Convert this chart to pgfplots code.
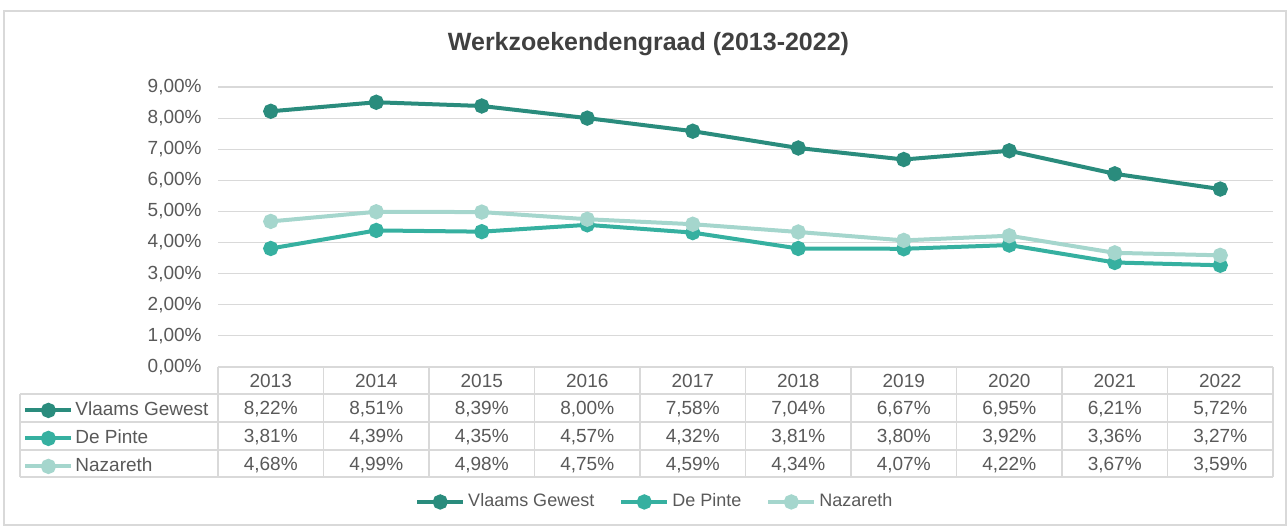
\documentclass[border=0pt]{standalone}
\usepackage{pgfplots}
\pgfplotsset{compat=1.18}
\usepackage{fontspec}
\setmainfont{Liberation Sans}
\definecolor{cA}{HTML}{2A8C7D}
\definecolor{cB}{HTML}{36B0A0}
\definecolor{cC}{HTML}{A5D6CD}
\definecolor{gridc}{HTML}{D9D9D9}
\definecolor{txt}{HTML}{595959}
\pgfplotsset{
  keyimg/.style={legend image code/.code={\draw[mark repeat=2,mark phase=2,##1] plot coordinates {(0pt,0pt) (11.5pt,0pt) (23pt,0pt)};}},
  sA/.style={color=cA, line width=2pt, mark=*, mark size=2.8pt, mark options={solid}},
  sB/.style={color=cB, line width=2pt, mark=*, mark size=2.8pt, mark options={solid}},
  sC/.style={color=cC, line width=2pt, mark=*, mark size=2.8pt, mark options={solid}},
}
\begin{document}
\begin{tikzpicture}[x=1pt,y=1pt]
\path[use as bounding box] (0,0) rectangle (644,263.5);
\draw[gridc, line width=0.6pt] (2,258) rectangle (643,1);
\node[font=\bfseries\fontsize{12.5}{14}\selectfont, text=black!75] at (324.25,241.5) {Werkzoekendengraad (2013-2022)};
\begin{axis}[
  at={(109pt,80pt)}, anchor=south west, scale only axis,
  width=527.5pt, height=140pt,
  xmin=0, xmax=10, ymin=0, ymax=9,
  axis line style={draw=none},
  xtick=\empty, ytick={0,1,...,9},
  ymajorgrids, grid style={gridc, line width=0.6pt},
  major tick length=0pt,
  /pgf/number format/assume math mode=true,
  yticklabel={\pgfmathprintnumber[fixed, fixed zerofill, precision=2, use comma]{\tick}\%},
  yticklabel style={font=\fontsize{9.5}{11}\selectfont, text=txt, inner xsep=0pt, xshift=-8pt},
  clip=false,
  keyimg,
  legend columns=3,
  legend style={draw=none, fill=none, at={(0.4145,-0.482)}, anchor=center,
    font=\fontsize{9}{11}\selectfont, text=txt, inner sep=0pt,
    nodes={inner xsep=1.5pt},
    /tikz/every odd column/.append style={column sep=0pt},
    /tikz/every even column/.append style={column sep=11pt}},
]
\addplot[sA] coordinates {(0.5,8.22) (1.5,8.51) (2.5,8.39) (3.5,8.00) (4.5,7.58) (5.5,7.04) (6.5,6.67) (7.5,6.95) (8.5,6.21) (9.5,5.72)};
\addlegendentry{Vlaams Gewest}
\addplot[sB] coordinates {(0.5,3.81) (1.5,4.39) (2.5,4.35) (3.5,4.57) (4.5,4.32) (5.5,3.81) (6.5,3.80) (7.5,3.92) (8.5,3.36) (9.5,3.27)};
\addlegendentry{De Pinte}
\addplot[sC] coordinates {(0.5,4.68) (1.5,4.99) (2.5,4.98) (3.5,4.75) (4.5,4.59) (5.5,4.34) (6.5,4.07) (7.5,4.22) (8.5,3.67) (9.5,3.59)};
\addlegendentry{Nazareth}
\end{axis}
\begin{axis}[
  at={(109pt,80pt)}, anchor=south west, scale only axis,
  width=527.5pt, height=140pt,
  xmin=0, xmax=10, ymin=0, ymax=9, hide axis,
  keyimg,
  legend cell align=left,
  legend style={draw=none, fill=none, at={(-0.1848,-0.1036)}, anchor=north west,
    font=\fontsize{9.5}{11}\selectfont, text=txt, inner sep=0pt, row sep=0pt,
    nodes={text height=6.8pt, text depth=2.2pt, inner ysep=2.5pt, inner xsep=1pt}},
]
\addlegendimage{sA}\addlegendentry{Vlaams Gewest}
\addlegendimage{sB}\addlegendentry{De Pinte}
\addlegendimage{sC}\addlegendentry{Nazareth}
\end{axis}
% data table grid
\begin{scope}[gridc, line width=0.6pt]
\draw (109,80) -- (636.5,80);
\foreach \yy in {66.5,52.5,38.5,25} \draw (10,\yy) -- (636.5,\yy);
\draw (10,66.5) -- (10,25);
\foreach \i in {0,...,10} \draw ({109+52.75*\i},80) -- ({109+52.75*\i},25);
\end{scope}
\begin{scope}[every node/.style={font=\fontsize{9.5}{11}\selectfont, text=txt, text height=6.8pt, text depth=0pt, inner sep=0pt, anchor=center}]
\foreach \v [count=\i from 0] in {2013,2014,2015,2016,2017,2018,2019,2020,2021,2022}
  \node at ({109+52.75*(\i+0.5)},73.25) {\v};
\foreach \v [count=\i from 0] in {{8,22},{8,51},{8,39},{8,00},{7,58},{7,04},{6,67},{6,95},{6,21},{5,72}}
  \node at ({109+52.75*(\i+0.5)},59.5) {\v\%};
\foreach \v [count=\i from 0] in {{3,81},{4,39},{4,35},{4,57},{4,32},{3,81},{3,80},{3,92},{3,36},{3,27}}
  \node at ({109+52.75*(\i+0.5)},45.5) {\v\%};
\foreach \v [count=\i from 0] in {{4,68},{4,99},{4,98},{4,75},{4,59},{4,34},{4,07},{4,22},{3,67},{3,59}}
  \node at ({109+52.75*(\i+0.5)},31.75) {\v\%};
\end{scope}
\end{tikzpicture}
\end{document}
